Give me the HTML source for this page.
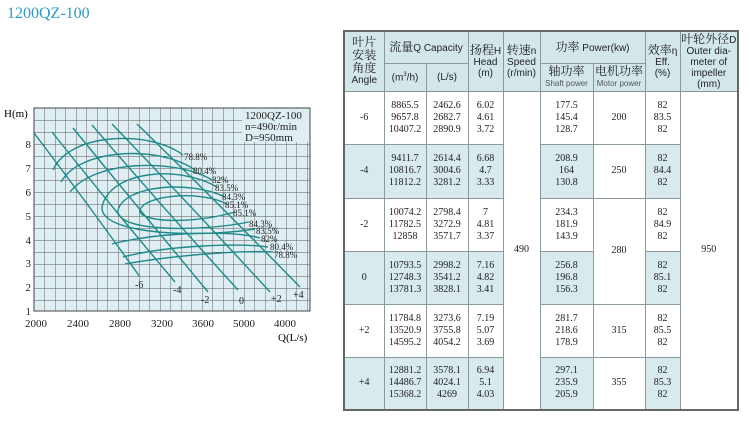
<!DOCTYPE html>
<html><head><meta charset="utf-8"><style>
body{margin:0;width:750px;height:421px;background:#fff;position:relative;overflow:hidden;font-family:"Liberation Serif","Noto Serif CJK SC",serif}
.t{position:absolute;left:7px;top:5px;color:#2a9ac6;font-size:16px}
table{position:absolute;left:343px;top:30px;border-collapse:collapse;border:2px solid #666;table-layout:fixed}
td{border:1px solid #8a9a9c;text-align:center;padding:0;font-size:10px;line-height:12px;color:#222}
.h{background:#d3e7eb;font-family:"Liberation Sans","Noto Sans CJK SC",sans-serif;font-size:10px;line-height:11px}
.b{background:#d9eaee}
.cn{font-family:"Noto Serif CJK SC",serif;font-size:12px}
.s{font-size:8px;color:#555}
</style></head><body>
<div class="t">1200QZ-100</div>
<svg width="330" height="360" style="position:absolute;left:0;top:0" font-family="Liberation Serif,serif">
<defs><pattern id="g" width="10.5" height="12" patternUnits="userSpaceOnUse" x="34" y="108"><path d="M0 0H10.5M0 0V12" stroke="#555" stroke-width="0.9" fill="none"/></pattern></defs>
<rect x="34" y="108" width="276" height="203" fill="#dfeef2"/>
<rect x="34" y="108" width="276" height="203" fill="url(#g)"/>
<rect x="34" y="108" width="276" height="203" fill="none" stroke="#444" stroke-width="1"/>
<rect x="242" y="109" width="67" height="33" fill="#dfeef2"/>
<g font-size="11" fill="#222"><text x="245" y="119">1200QZ-100</text><text x="245" y="130">n=490r/min</text><text x="245" y="141">D=950mm</text></g>
<g font-size="11" fill="#222" text-anchor="end"><text x="31" y="148">8</text><text x="31" y="172">7</text><text x="31" y="196">6</text><text x="31" y="220">5</text><text x="31" y="244">4</text><text x="31" y="267">3</text><text x="31" y="291">2</text><text x="31" y="315">1</text></g>
<text x="4" y="117" font-size="11">H(m)</text>
<g font-size="11" fill="#222" text-anchor="middle"><text x="36" y="327">2000</text><text x="78" y="327">2400</text><text x="120" y="327">2800</text><text x="162" y="327">3200</text><text x="203" y="327">3600</text><text x="244" y="327">5000</text><text x="285" y="327">4000</text></g>
<text x="278" y="341" font-size="11">Q(L/s)</text>
<g stroke="#1f8a8a" stroke-width="1.4" fill="none">
<path d="M34 133Q85 200 140 277"/><path d="M52 132Q110 205 175 282"/><path d="M73 128Q140 210 208 292"/><path d="M92 125Q165 210 238 290"/><path d="M112 124Q190 205 270 292"/><path d="M137 124Q215 200 300 287"/>
<path d="M53 170C70 132 150 130 183 155"/><path d="M61 182C80 148 160 145 195 170"/><path d="M70 192C95 160 175 158 212 180"/>
<path d="M217 187C180 165 110 170 102 207C100 235 200 238 255 229"/>
<path d="M225 197C190 180 125 185 118 210C115 232 200 232 249 222"/>
<path d="M227 204C200 190 145 195 140 210C138 222 190 225 235 212"/>
<path d="M112 244C160 232 230 230 260 238"/><path d="M123 257C170 245 240 243 268 247"/><path d="M125 264C175 255 245 250 273 252"/>
</g>
<g font-size="9" fill="#222"><text x="184" y="160">78.8%</text><text x="193" y="174">80.4%</text><text x="212" y="183">82%</text><text x="215" y="191">83.5%</text><text x="222" y="200">84.3%</text><text x="225" y="208">85.1%</text><text x="233" y="216">85.1%</text><text x="249" y="227">84.3%</text><text x="256" y="234">83.5%</text><text x="261" y="242">82%</text><text x="270" y="250">80.4%</text><text x="274" y="258">78.8%</text></g>
<g font-size="10" fill="#222"><text x="135" y="288">-6</text><text x="173" y="293">-4</text><text x="201" y="303">-2</text><text x="239" y="304">0</text><text x="271" y="302">+2</text><text x="293" y="298">+4</text></g>
</svg>
<table>
<colgroup><col style="width:40px"><col style="width:42px"><col style="width:42px"><col style="width:35px"><col style="width:37px"><col style="width:53px"><col style="width:52px"><col style="width:35px"><col style="width:58px"></colgroup>
<tr style="height:32px"><td class="h" rowspan="2"><span class="cn">叶片<br>安装<br>角度</span><br>Angle</td><td class="h" colspan="2"><span class="cn">流量</span>Q Capacity</td><td class="h" rowspan="2"><span class="cn">扬程</span>H<br>Head<br>(m)</td><td class="h" rowspan="2"><span class="cn">转速</span>n<br>Speed<br>(r/min)</td><td class="h" colspan="2"><span class="cn">功率</span> Power(kw)</td><td class="h" rowspan="2"><span class="cn">效率</span>η<br>Eff.<br>(%)</td><td class="h" rowspan="2"><span class="cn">叶轮外径</span>D<br>Outer dia-<br>meter of<br>impeller<br>(mm)</td></tr>
<tr style="height:28px"><td class="h">(m<sup style="font-size:6px">3</sup>/h)</td><td class="h">(L/s)</td><td class="h"><span class="cn">轴功率</span><br><span class="s">Shaft power</span></td><td class="h"><span class="cn">电机功率</span><br><span class="s">Motor power</span></td></tr>
<tr style="height:53px"><td>-6</td><td>8865.5<br>9657.8<br>10407.2</td><td>2462.6<br>2682.7<br>2890.9</td><td>6.02<br>4.61<br>3.72</td><td rowspan="6">490</td><td>177.5<br>145.4<br>128.7</td><td>200</td><td>82<br>83.5<br>82</td><td rowspan="6">950</td></tr>
<tr style="height:54px"><td class="b">-4</td><td class="b">9411.7<br>10816.7<br>11812.2</td><td class="b">2614.4<br>3004.6<br>3281.2</td><td class="b">6.68<br>4.7<br>3.33</td><td class="b">208.9<br>164<br>130.8</td><td>250</td><td class="b">82<br>84.4<br>82</td></tr>
<tr style="height:53px"><td>-2</td><td>10074.2<br>11782.5<br>12858</td><td>2798.4<br>3272.9<br>3571.7</td><td>7<br>4.81<br>3.37</td><td>234.3<br>181.9<br>143.9</td><td rowspan="2">280</td><td>82<br>84.9<br>82</td></tr>
<tr style="height:53px"><td class="b">0</td><td class="b">10793.5<br>12748.3<br>13781.3</td><td class="b">2998.2<br>3541.2<br>3828.1</td><td class="b">7.16<br>4.82<br>3.41</td><td class="b">256.8<br>196.8<br>156.3</td><td class="b">82<br>85.1<br>82</td></tr>
<tr style="height:53px"><td>+2</td><td>11784.8<br>13520.9<br>14595.2</td><td>3273.6<br>3755.8<br>4054.2</td><td>7.19<br>5.07<br>3.69</td><td>281.7<br>218.6<br>178.9</td><td>315</td><td>82<br>85.5<br>82</td></tr>
<tr style="height:53px"><td class="b">+4</td><td class="b">12881.2<br>14486.7<br>15368.2</td><td class="b">3578.1<br>4024.1<br>4269</td><td class="b">6.94<br>5.1<br>4.03</td><td class="b">297.1<br>235.9<br>205.9</td><td>355</td><td class="b">82<br>85.3<br>82</td></tr>
</table>
</body></html>
